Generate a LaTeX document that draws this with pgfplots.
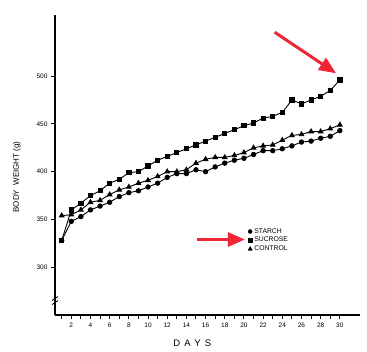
\documentclass[border=0pt]{standalone}
\usepackage{fontspec}
\setmainfont{Liberation Sans}
\usepackage{pgfplots}
\pgfplotsset{compat=1.18}
\usetikzlibrary{arrows.meta}
\definecolor{arrowred}{HTML}{EE2636}
\begin{document}
\begin{tikzpicture}
\begin{axis}[
  scale only axis, width=305pt, height=300pt,
  xmin=0.3, xmax=32.1, ymin=250, ymax=564,
  axis lines=left, axis line style={-, black},
  x axis line style={line width=1.2pt},
  y axis line style={line width=1.7pt},
  xtick={2,4,...,30}, minor xtick={1,3,...,29},
  ytick={300,350,...,500},
  tick align=outside, major tick length=4pt, minor tick length=4pt,
  every tick/.style={black, line width=1pt},
  tick label style={font=\fontsize{6.5}{7}\selectfont},
  /pgf/number format/assume math mode=true,
  xlabel={\addfontfeature{LetterSpace=45}DAYS},
  xlabel style={font=\fontsize{9.5}{10}\selectfont, at={(axis description cs:0.45,-0.093)}, anchor=center},
  ylabel={BODY\ \ WEIGHT (g)},
  ylabel style={font=\fontsize{8}{9}\selectfont, at={(axis description cs:-0.125,0.46)}, anchor=center},
  legend style={draw=none, fill=none, at={(axis cs:20.3,344)}, anchor=north west,
    font=\fontsize{6.8}{7}\selectfont, row sep=-1.5pt, inner sep=1pt},
  legend cell align=left,
  clip=false,
]
\addlegendimage{only marks, mark=*, mark size=2pt, black}
\addlegendentry{STARCH}
\addlegendimage{only marks, mark=square*, mark size=2pt, black}
\addlegendentry{SUCROSE}
\addlegendimage{only marks, mark=triangle*, mark size=2.5pt, black}
\addlegendentry{CONTROL}
% Sucrose
\addplot[black, line width=0.9pt, mark=square*, mark size=2.1pt, forget plot] coordinates {
(1,328)(2,360)(3,367)(4,375)(5,380)(6,388)(7,392)(8,399)(9,400)(10,406)
(11,412)(12,416)(13,420)(14,424)(15,428)(16,432)(17,436)(18,440)(19,444)(20,448)
(21,451)(22,456)(23,458)(24,462)(25,475)(26,471)(27,475)(28,479)(29,485)(30,496)};
% Starch
\addplot[black, line width=0.9pt, mark=*, mark size=2.2pt, forget plot] coordinates {
(1,328)(2,348)(3,353)(4,360)(5,364)(6,368)(7,374)(8,378)(9,380)(10,384)
(11,388)(12,394)(13,398)(14,398)(15,402)(16,400)(17,405)(18,409)(19,412)(20,414)
(21,418)(22,422)(23,422)(24,424)(25,427)(26,431)(27,432)(28,435)(29,437)(30,443)};
% Control
\addplot[black, line width=0.9pt, mark=triangle*, mark size=2.6pt, forget plot] coordinates {
(1,354)(2,355)(3,360)(4,368)(5,370)(6,376)(7,381)(8,384)(9,388)(10,391)
(11,395)(12,400)(13,400)(14,402)(15,409)(16,413)(17,415)(18,415)(19,417)(20,420)
(21,425)(22,427)(23,428)(24,433)(25,438)(26,439)(27,442)(28,442)(29,445)(30,449)};
% axis break
\fill[white] (axis cs:0.3,262) ++(-2pt,0) rectangle ++(4pt,6pt);
\draw[black, line width=0.8pt] (axis cs:0.3,262) ++(-3pt,-1pt) -- ++(6pt,4pt);
\draw[black, line width=0.8pt] (axis cs:0.3,262) ++(-3pt,3pt) -- ++(6pt,4pt);
% red arrows
\draw[arrowred, line width=3pt, -{Triangle[length=17pt,width=14pt]}] (axis cs:23.2,546) -- (axis cs:29.6,503);
\draw[arrowred, line width=3pt, -{Triangle[length=17pt,width=14pt]}] (axis cs:15.1,329) -- (axis cs:20.1,329);
\end{axis}
\pgfresetboundingbox
\path (current axis.south west) ++(-55pt,-36pt) rectangle ([xshift=7pt,yshift=15pt]current axis.north east);
\end{tikzpicture}
\end{document}
